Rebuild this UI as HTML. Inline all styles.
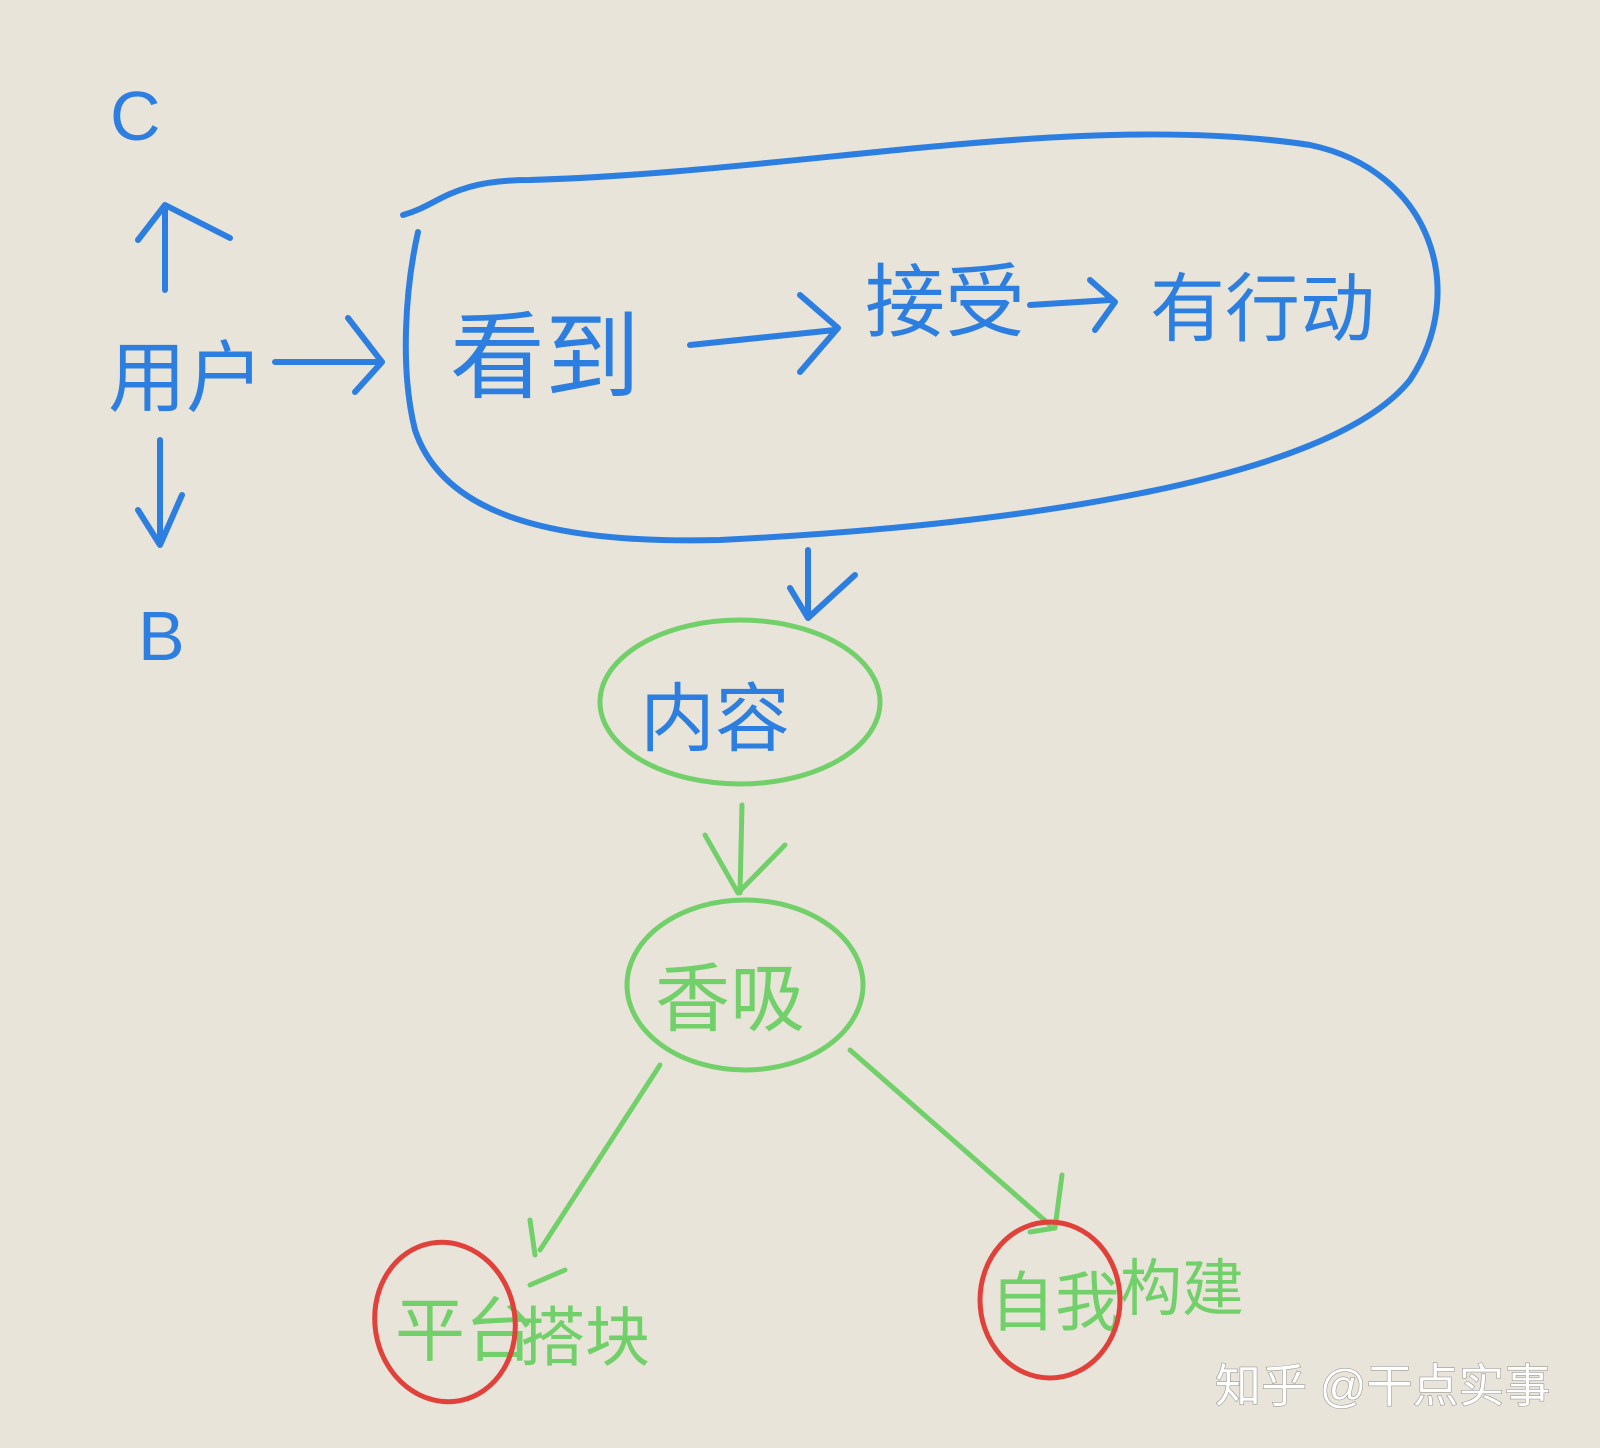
<!DOCTYPE html>
<html><head><meta charset="utf-8"><style>
html,body{margin:0;padding:0;background:#e9e4d9;}
svg{display:block}
text{font-family:"Liberation Sans","Noto Sans CJK SC",sans-serif;}
</style></head><body>
<svg width="1600" height="1448" viewBox="0 0 1600 1448" xmlns="http://www.w3.org/2000/svg">
<rect width="1600" height="1448" fill="#e9e4d9"/>
<g fill="none" stroke="#2c7fe0" stroke-width="6" stroke-linecap="round" stroke-linejoin="round">
 <path d="M403,215 C440,205 450,180 530,180 C800,172 1080,110 1310,145 C1430,170 1470,290 1410,380 C1330,480 1020,525 720,540 C530,545 440,505 415,430 C400,370 405,290 418,232"/>
 <path d="M275,362 L380,362 M348,318 L382,362 L355,392"/>
 <path d="M165,290 L165,205 M138,240 L165,205 L230,238"/>
 <path d="M160,440 L160,540 M138,510 L160,545 L182,495"/>
 <path d="M690,345 L835,330 M800,295 L838,328 L800,372"/>
 <path d="M1030,305 L1110,300 M1090,280 L1115,302 L1095,330"/>
 <path d="M808,550 L808,615 M790,588 L808,618 L855,575"/>
</g>
<g fill="#2c7fe0">
 <text x="110" y="140" font-size="70">C</text>
 <text x="108" y="405" font-size="78">用户</text>
 <text x="138" y="660" font-size="70">B</text>
 <text x="450" y="390" font-size="95">看到</text>
 <text x="865" y="330" font-size="80">接受</text>
 <text x="1150" y="335" font-size="75">有行动</text>
 <text x="640" y="745" font-size="75">内容</text>
</g>
<g fill="none" stroke="#72d06a" stroke-width="5" stroke-linecap="round" stroke-linejoin="round">
 <ellipse cx="740" cy="702" rx="140" ry="82"/>
 <path d="M742,805 L740,893 M705,835 L738,893 L785,845"/>
 <ellipse cx="745" cy="985" rx="118" ry="85"/>
 <path d="M660,1065 L540,1250 M530,1220 L535,1255 M530,1285 L565,1270"/>
 <path d="M850,1050 L1050,1225 M1062,1175 L1055,1228 L1030,1232"/>
</g>
<g fill="#72d06a">
 <text x="655" y="1025" font-size="75">香吸</text>
 <text x="395" y="1355" font-size="70">平台</text>
 <text x="520" y="1360" font-size="65">搭块</text>
 <text x="990" y="1325" font-size="65">自我</text>
 <text x="1120" y="1310" font-size="62">构建</text>
</g>
<g fill="none" stroke="#e0413b" stroke-width="5">
 <ellipse cx="445" cy="1322" rx="70" ry="80" transform="rotate(-10 445 1322)"/>
 <ellipse cx="1050" cy="1300" rx="70" ry="78"/>
</g>
<text x="1215" y="1402" font-size="46" fill="#ffffff" stroke="#8a8680" stroke-width="1" style="paint-order:stroke">知乎 @干点实事</text>
</svg>
</body></html>
